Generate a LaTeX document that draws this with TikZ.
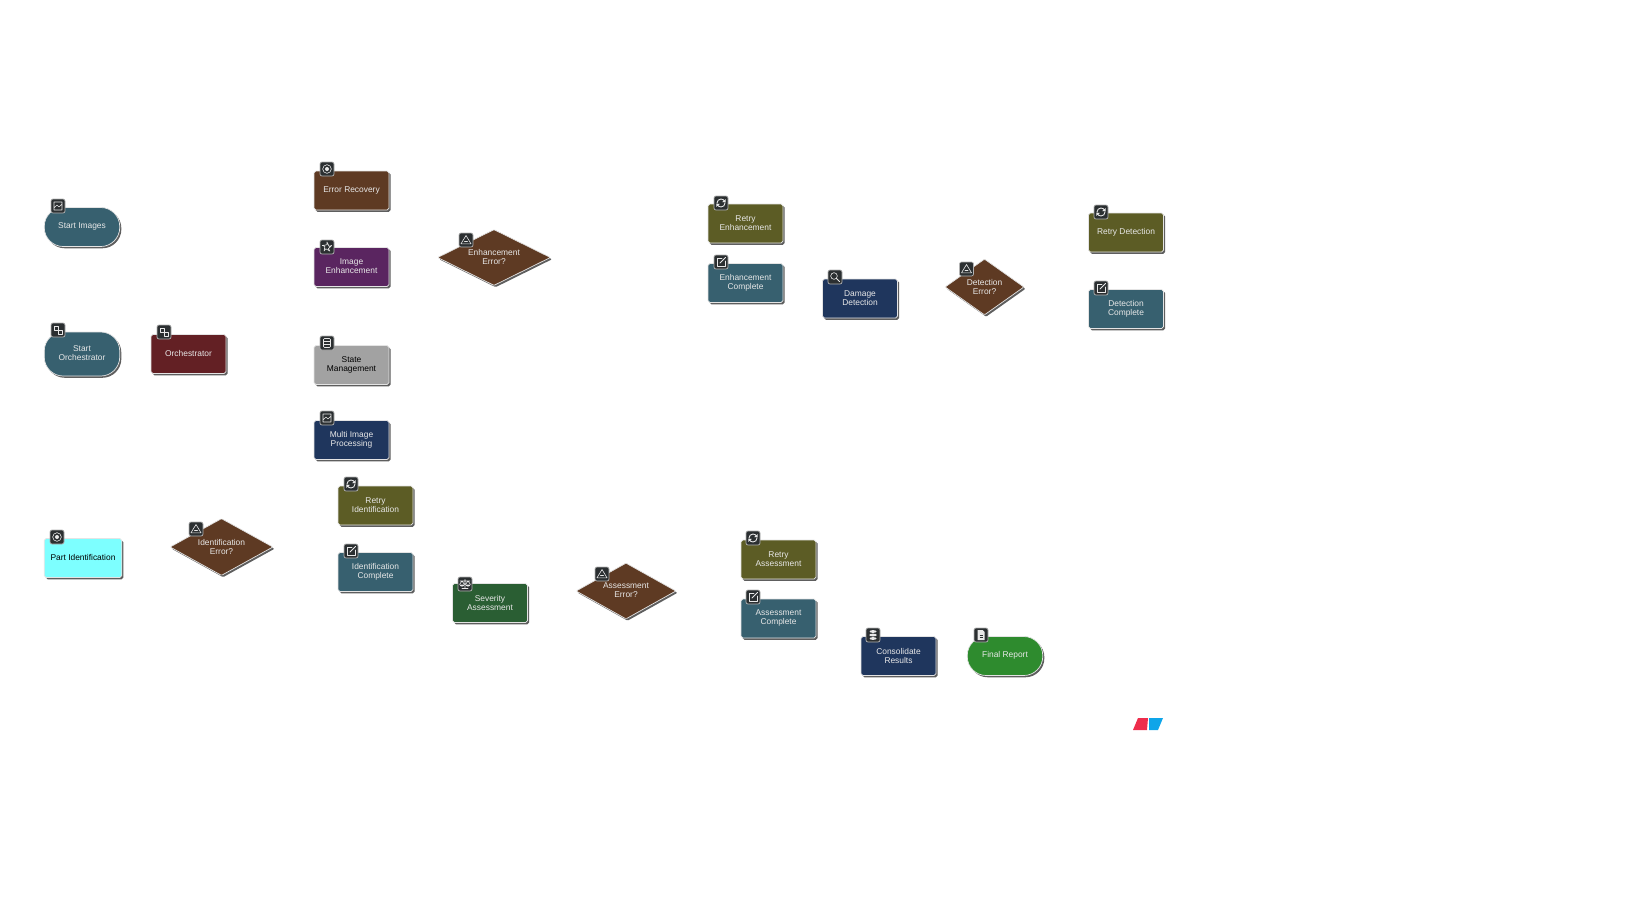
\documentclass[tikz,border=0pt]{standalone}
\usepackage{fontspec}
\setsansfont{Liberation Sans}
\usetikzlibrary{shapes.geometric,shadows}
\definecolor{tealbox}{HTML}{37606F}
\definecolor{wine}{HTML}{632024}
\definecolor{brownbox}{HTML}{5E3A23}
\definecolor{plum}{HTML}{5A2560}
\definecolor{greybox}{HTML}{A2A2A2}
\definecolor{navy}{HTML}{1F365D}
\definecolor{olivebox}{HTML}{5C5C25}
\definecolor{aqua}{HTML}{7DFFFF}
\definecolor{forest}{HTML}{2A5E33}
\definecolor{leaf}{HTML}{2E8B2E}
\definecolor{iconbg}{HTML}{2B2F31}
\definecolor{edgegrey}{HTML}{E4E4E4}
\definecolor{shadowgrey}{HTML}{5E5E5E}
\definecolor{softwhite}{HTML}{E8E8E8}
\definecolor{logored}{HTML}{EE2D4C}
\definecolor{logoblue}{HTML}{0EA5E9}
\tikzset{
  boxshape/.style={draw=edgegrey,line width=.7pt,inner sep=0pt,
    general shadow={fill=shadowgrey,shadow xshift=1.6pt,shadow yshift=-1.8pt}},
  taskbox/.style={boxshape,rectangle,rounded corners=1.8pt,minimum width=75pt,minimum height=39pt},
  endbox/.style={boxshape,rectangle,rounded corners=19pt,minimum width=75.5pt},
  gatebox/.style={boxshape,diamond,rounded corners=1pt,fill=brownbox},
  boxtext/.style={inner sep=0pt,align=center,yshift=.5pt,font=\sffamily\fontsize{8.4}{9}\selectfont},
  iconbox/.style={draw=gray!60,fill=iconbg,line width=.7pt,rounded corners=2pt,minimum size=14pt,inner sep=0pt},
  iconline/.style={draw=softwhite,line width=.6pt,line cap=round,line join=round}
}
% small white glyphs, drawn round (0,0)
\newcommand{\icimage}{\draw[iconline] (-4,-4) rectangle (4,4) (-4,2)--(-1,-1)--(1,1)--(4,-2);}
\newcommand{\iclink}{\draw[iconline] (-4,-4) rectangle (0,0) (0,0) rectangle (4,4);}
\newcommand{\ictarget}{\draw[iconline] (0,0) circle (4.3); \fill[softwhite] (0,0) circle (2);}
\newcommand{\icstar}{\draw[iconline] (90:-5)--(162:-2.2)--(162:-5)--(234:-2.2)--(234:-5)--(306:-2.2)--(306:-5)--(18:-2.2)--(18:-5)--(90:-2.2)--cycle;}
\newcommand{\icalert}{\draw[iconline] (0,-4.5)--(5,3.8)--(-5,3.8)--cycle (-1.5,1.5)--(1.5,1.5);}
\newcommand{\iclist}{\draw[iconline,rounded corners=1pt] (-3.5,-4.5) rectangle (3.5,4.5); \draw[iconline] (-3.5,-1.5)--(3.5,-1.5) (-3.5,1.5)--(3.5,1.5);}
\newcommand{\icrefresh}{\draw[iconline,line width=.9pt] (-4,0) arc (180:340:4) (4,0) arc (0:160:4); \fill[softwhite] (4.7,-4)--(4.7,-.5)--(1.2,-1)--cycle (-4.7,4)--(-4.7,.5)--(-1.2,1)--cycle;}
\newcommand{\icedit}{\draw[iconline,line width=.8pt] (1,-4)--(-4,-4)--(-4,4)--(4,4)--(4,-1); \draw[iconline,line width=.9pt] (-1,1)--(4.5,-4.5);}
\newcommand{\icsearch}{\draw[iconline] (-1,-1) circle (3.3); \draw[iconline,line width=1pt] (1.5,1.5)--(4.5,4.5);}
\newcommand{\icscales}{\draw[iconline] (0,-4.5)--(0,4.5) (-3,4.5)--(3,4.5) (-5,-3)--(5,-3) (-3,-3)--(-5.5,.5) (-3,-3)--(-.5,.5) (3,-3)--(.5,.5) (3,-3)--(5.5,.5); \fill[softwhite] (-5.5,.5) arc (180:0:2.5 and 2)--cycle (.5,.5) arc (180:0:2.5 and 2)--cycle;}
\newcommand{\icstack}{\fill[softwhite] (0,-3.5) ellipse (3.5 and 1.4) (0,0) ellipse (3.8 and 1.4) (0,3.5) ellipse (3.5 and 1.4);}
\newcommand{\icdoc}{\fill[softwhite] (-3.5,-5)--(1.5,-5)--(3.5,-3)--(3.5,5)--(-3.5,5)--cycle; \draw[iconbg,line width=.6pt] (-1.5,0)--(1.5,0) (-1.5,2)--(1.5,2);}
\begin{document}
\begin{tikzpicture}[x=1pt,y=-1pt]
\path[use as bounding box] (0,0) rectangle (1652,897);
%tasks: name/x/y/text/fill/text colour/icon x/icon y/glyph
\foreach \nm/\cx/\cy/\txt/\col/\tc/\ix/\iy/\ic in {
  orch/188.5/354/{Orchestrator}/wine/softwhite/164/332/iclink,
  recovery/351.5/190.5/{Error Recovery}/brownbox/softwhite/327/169/ictarget,
  enhance/351.5/267/{Image\\Enhancement}/plum/softwhite/327/247/icstar,
  state/351.5/365/{State\\Management}/greybox/black/327/343/iclist,
  multi/351.5/440/{Multi Image\\Processing}/navy/softwhite/327/418/icimage,
  retryid/375.5/505.5/{Retry\\Identification}/olivebox/softwhite/351/484/icrefresh,
  doneid/375.5/572/{Identification\\Complete}/tealbox/softwhite/351/551/icedit,
  severity/490/603/{Severity\\Assessment}/forest/softwhite/465/584/icscales,
  retryass/778.5/559.5/{Retry\\Assessment}/olivebox/softwhite/753/538/icrefresh,
  doneass/778.5/618.5/{Assessment\\Complete}/tealbox/softwhite/753/597/icedit,
  results/898.5/656/{Consolidate\\Results}/navy/softwhite/873/635/icstack,
  retryenh/745.5/223.5/{Retry\\Enhancement}/olivebox/softwhite/721/203/icrefresh,
  doneenh/745.5/283/{Enhancement\\Complete}/tealbox/softwhite/721/262/icedit,
  damage/860/298.5/{Damage\\Detection}/navy/softwhite/835/277/icsearch,
  retrydet/1126/232.5/{Retry Detection}/olivebox/softwhite/1101/212/icrefresh,
  donedet/1126/309/{Detection\\Complete}/tealbox/softwhite/1101/288/icedit}
{
\node[taskbox,fill=\col] (\nm) at (\cx,\cy) {};
\node[boxtext,text=\tc] (\nm-text) at (\nm.center) {\txt};
\node[iconbox] (\nm-icon) at (\ix,\iy) {};
\begin{scope}[shift={(\ix,\iy)}]\csname\ic\endcsname\end{scope}
}
%wider one
\node[taskbox,fill=aqua,minimum width=77.5pt] (part) at (83,558) {};
\node[boxtext,text=black] (part-text) at (part.center) {Part Identification};
\node[iconbox] (part-icon) at (57,537) {};
\begin{scope}[shift={(57,537)}]\ictarget\end{scope}
%start and end
\foreach \nm/\cx/\cy/\bh/\txt/\col/\ix/\iy/\ic in {
  startimg/82/227/39/{Start Images}/tealbox/58/206/icimage,
  startorch/82/354/44/{Start\\Orchestrator}/tealbox/58/330/iclink,
  report/1005/656/39/{Final Report}/leaf/981/635/icdoc}
{
\node[endbox,fill=\col,minimum height=\bh pt] (\nm) at (\cx,\cy) {};
\node[boxtext,text=softwhite] (\nm-text) at (\nm.center) {\txt};
\node[iconbox] (\nm-icon) at (\ix,\iy) {};
\begin{scope}[shift={(\ix,\iy)}]\csname\ic\endcsname\end{scope}
}
%error checks
\foreach \nm/\cx/\cy/\bw/\bh/\txt/\ix/\iy in {
  enherr/494/257.5/113/56/{Enhancement\\Error?}/466/240,
  iderr/221.5/547/103/57/{Identification\\Error?}/196/529,
  asserr/626/591/100/56/{Assessment\\Error?}/602/574,
  deterr/984.5/287/79/56/{Detection\\Error?}/966.5/269}
{
\node[gatebox,minimum width=\bw pt,minimum height=\bh pt] (\nm) at (\cx,\cy) {};
\node[boxtext,text=softwhite] (\nm-text) at (\nm.center) {\txt};
\node[iconbox] (\nm-icon) at (\ix,\iy) {};
\begin{scope}[shift={(\ix,\iy)}]\icalert\end{scope}
}
%logo
\fill[logored] (1133,730)--(1138,718)--(1148,718)--(1147,730)--cycle;
\fill[logoblue] (1149,718)--(1163,718)--(1158,730)--(1149,730)--cycle;
\end{tikzpicture}
\end{document}
